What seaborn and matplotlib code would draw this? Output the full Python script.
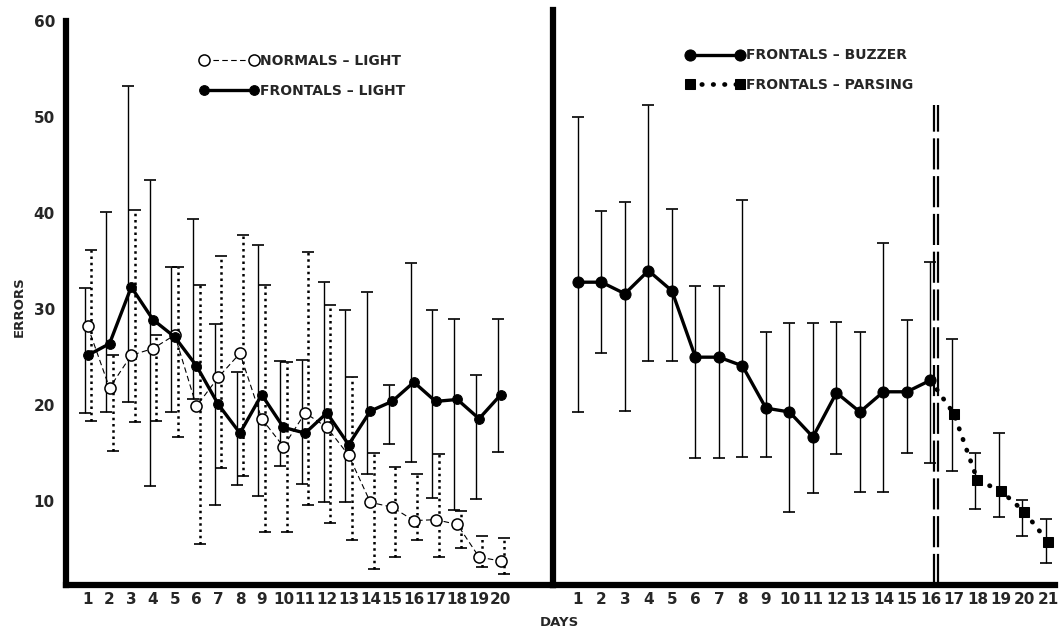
import matplotlib
matplotlib.use("Agg")
import matplotlib.pyplot as plt
import seaborn as sns
import numpy as np

# Left panel: light stimulus
days_light = list(range(1, 21))
normals_light = [28.2, 21.8, 25.2, 25.9, 27.3, 19.9, 22.9, 25.4, 18.6, 15.7,
                 19.2, 17.7, 14.8, 9.9, 9.4, 8.0, 8.1, 7.6, 4.2, 3.8]
normals_hi = [36.1, 25.2, 40.3, 27.3, 34.4, 32.5, 35.5, 37.7, 32.5, 24.5,
              35.9, 30.4, 22.9, 15.0, 13.6, 12.9, 14.9, 9.0, 6.4, 6.2]
normals_lo = [18.4, 15.2, 18.3, 18.4, 16.7, 5.6, 13.5, 12.6, 6.8, 6.8,
              9.6, 7.8, 6.0, 3.0, 4.2, 6.0, 4.2, 5.2, 3.2, 2.4]
frontals_light = [25.2, 26.4, 32.3, 28.9, 27.1, 24.1, 20.1, 17.1, 21.1, 17.7,
                  17.1, 19.2, 15.9, 19.4, 20.4, 22.4, 20.4, 20.6, 18.6, 21.1]
frontals_hi = [32.2, 40.1, 53.2, 43.4, 34.4, 39.4, 28.5, 23.5, 36.7, 24.6,
               24.7, 32.8, 29.9, 31.8, 22.1, 34.8, 29.9, 29.0, 23.1, 29.0]
frontals_lo = [19.2, 19.3, 20.3, 11.6, 19.3, 20.6, 9.6, 11.7, 10.6, 13.7,
               11.8, 9.9, 9.9, 12.9, 16.0, 14.1, 10.3, 9.1, 10.2, 15.1]

# Right panel: buzzer, then parsing after day 16
days_buzzer = list(range(1, 17))
buzzer = [32.8, 32.8, 31.6, 34.0, 31.9, 25.0, 25.0, 24.1, 19.7, 19.3,
          16.7, 21.3, 19.3, 21.4, 21.4, 22.6]
buzzer_hi = [50.0, 40.2, 41.1, 51.2, 40.4, 32.4, 32.4, 41.4, 27.6, 28.6,
             28.6, 28.7, 27.6, 36.9, 28.9, 34.9]
buzzer_lo = [19.3, 25.4, 19.4, 24.6, 24.6, 14.5, 14.5, 14.6, 14.6, 8.9,
             10.9, 14.9, 11.0, 11.0, 15.0, 14.0]
days_parsing = [16, 17, 18, 19, 20, 21]
parsing = [22.6, 19.1, 12.2, 11.1, 8.9, 5.8]
parsing_hi = [None, 26.9, 15.0, 17.1, 10.1, 8.2]
parsing_lo = [None, 13.2, 9.2, 8.4, 6.4, 3.6]
switch_day = 16.25

sns.set_style("white")
plt.rcParams['font.family'] = ['DejaVu Sans']

fig = plt.figure(figsize=(10.6, 6.33), dpi=100)
ax1 = fig.add_axes([0.0623, 0.0758, 0.4594, 0.9082])
ax2 = fig.add_axes([0.5217, 0.0758, 0.4736, 0.9082])

YMIN, YMAX = 1.3, 61.1


def bars(ax, x, mid, hi, lo, style, lw, offset=0.0):
    x = np.array(x, dtype=float) + offset
    mid = np.array(mid, dtype=float)
    err = [mid - np.array(lo, dtype=float), np.array(hi, dtype=float) - mid]
    _, caps, cols = ax.errorbar(x, mid, yerr=err, fmt='none', ecolor='black',
                                elinewidth=lw, capsize=4, capthick=1.2, zorder=2)
    cols[0].set_linestyle(style)


# ---- left panel
bars(ax1, days_light, normals_light, normals_hi, normals_lo, (0, (1, 1.5)), 1.8, 0.15)
bars(ax1, days_light, frontals_light, frontals_hi, frontals_lo, '-', 1.0, -0.15)
sns.lineplot(x=days_light, y=normals_light, ax=ax1, color='black', linestyle=(0, (5, 3)),
             linewidth=0.8, marker='o', markersize=8, markerfacecolor='white',
             markeredgecolor='black', markeredgewidth=1.1, label='NORMALS – LIGHT', zorder=3)
sns.lineplot(x=days_light, y=frontals_light, ax=ax1, color='black', linestyle='-',
             linewidth=2.4, marker='o', markersize=7, markerfacecolor='black',
             markeredgecolor='black', label='FRONTALS – LIGHT', zorder=4)

# ---- right panel
bars(ax2, days_buzzer, buzzer, buzzer_hi, buzzer_lo, '-', 1.0)
bars(ax2, days_parsing[1:], parsing[1:], parsing_hi[1:], parsing_lo[1:], '-', 1.0, -0.1)
sns.lineplot(x=days_buzzer, y=buzzer, ax=ax2, color='black', linestyle='-',
             linewidth=2.4, marker='o', markersize=8, markerfacecolor='black',
             markeredgecolor='black', label='FRONTALS – BUZZER', zorder=4)
sns.lineplot(x=days_parsing, y=parsing, ax=ax2, color='black', linestyle=(0, (0.1, 2.3)),
             linewidth=3.4, marker='s', markersize=7, markevery=slice(1, None),
             markerfacecolor='black', markeredgecolor='black',
             dash_capstyle='round', label='FRONTALS – PARSING', zorder=3)
for dx in (-0.08, 0.08):
    ax2.plot([switch_day + dx, switch_day + dx], [YMIN, 51.2], color='black',
             linewidth=1.6, linestyle=(0, (14, 3)), zorder=1)

for ax, n, xl in ((ax1, 20, (0, 22.4)), (ax2, 21, (-0.06, 21.3))):
    ax.set_xlim(*xl)
    ax.set_ylim(YMIN, YMAX)
    ax.set_xticks(range(1, n + 1))
    ax.set_xticklabels([str(d) for d in range(1, n + 1)], fontsize=11, fontweight='bold')
    ax.tick_params(length=0, pad=5)
    for s in ('top', 'right'):
        ax.spines[s].set_visible(False)
    for s in ('left', 'bottom'):
        ax.spines[s].set_linewidth(4.5)
        ax.spines[s].set_color('black')
    ax.grid(False)
    ax.set_xlabel('')
    ax.set_ylabel('')

ax1.spines['left'].set_bounds(YMIN, 60)
ax1.set_yticks([10, 20, 30, 40, 50, 60])
ax1.set_yticklabels(['10', '20', '30', '40', '50', '60'], fontsize=11, fontweight='bold')
ax1.tick_params(axis='y', pad=8)
ax2.set_yticks([])

for ax, anchor in ((ax1, (0.25, 0.945)), (ax2, (0.24, 0.955))):
    h, l = ax.get_legend_handles_labels()
    ax.legend(h, l, loc='upper left', bbox_to_anchor=anchor, frameon=False,
              numpoints=2, handlelength=4.2, handletextpad=0.1, labelspacing=1.1,
              prop={'weight': 'bold', 'size': 10})

fig.text(0.018, 0.515, 'ERRORS', rotation=90, ha='center', va='center',
         fontsize=9.5, fontweight='bold')
fig.text(0.528, 0.017, 'DAYS', ha='center', va='center', fontsize=9.5, fontweight='bold')

fig.savefig('out.png', dpi=100)
